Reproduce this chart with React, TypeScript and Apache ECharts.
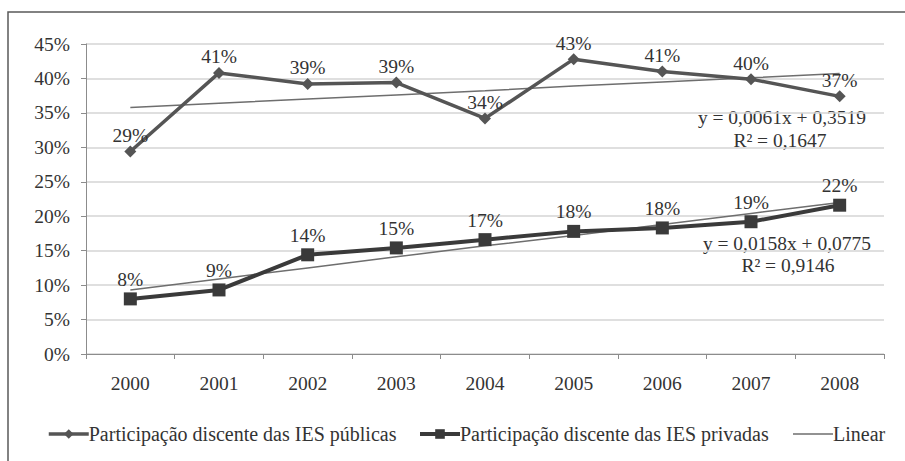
import React, { useEffect, useRef } from "react";
import * as echarts from "echarts";

const years = ["2000", "2001", "2002", "2003", "2004", "2005", "2006", "2007", "2008"];
const publicShare = [29.4, 40.8, 39.2, 39.4, 34.2, 42.8, 41.0, 39.9, 37.4];
const privateShare = [8.0, 9.3, 14.4, 15.4, 16.6, 17.8, 18.3, 19.2, 21.6];
const publicTrend = [35.8, 36.4, 37.0, 37.6, 38.2, 38.9, 39.5, 40.1, 40.7];
const privateTrend = [9.3, 10.9, 12.5, 14.1, 15.7, 17.2, 18.8, 20.4, 22.0];
const publicName = "Participação discente das IES públicas";
const privateName = "Participação discente das IES privadas";
const trendName = "Linear";
const publicEq = ["y = 0,0061x + 0,3519", "R² = 0,1647"];
const privateEq = ["y = 0,0158x + 0,0775", "R² = 0,9146"];

const FONT = "'Liberation Serif', 'Times New Roman', serif";
const FS = 19.5;

export default function App() {
  const ref = useRef<HTMLDivElement>(null);
  useEffect(() => {
    if (!ref.current) return;
    const chart = echarts.init(ref.current, undefined, { renderer: "svg" });
    const eqStyle = { fontFamily: FONT, fontSize: FS, fill: "#333", textAlign: "center", textVerticalAlign: "middle" };
    const legendBase = {
      top: 419,
      itemWidth: 40,
      itemHeight: 12,
      textStyle: { fontFamily: FONT, fontSize: 20, color: "#333", padding: [0, 0, 0, -5] },
    };
    chart.setOption({
      animation: false,
      backgroundColor: "#fff",
      textStyle: { fontFamily: FONT },
      grid: { left: 86, right: 21, top: 44, bottom: 107 },
      xAxis: {
        type: "category",
        data: years,
        boundaryGap: true,
        axisLine: { lineStyle: { color: "#8c8c8c", width: 1 } },
        axisTick: { show: true, length: 5, lineStyle: { color: "#8c8c8c" } },
        axisLabel: { fontFamily: FONT, fontSize: FS, color: "#333", margin: 19 },
      },
      yAxis: {
        type: "value",
        min: 0,
        max: 45,
        interval: 5,
        axisLine: { show: true, lineStyle: { color: "#8c8c8c", width: 1 } },
        axisTick: { show: true, length: 5, lineStyle: { color: "#8c8c8c" } },
        axisLabel: { fontFamily: FONT, fontSize: FS, color: "#333", margin: 16, formatter: (v: number) => `${v}%` },
        splitLine: { lineStyle: { color: "#d4d4d4", width: 1.5 } },
      },
      legend: [
        { ...legendBase, left: 42, data: [publicName], lineStyle: { width: 3.5 } },
        { ...legendBase, left: 413, data: [privateName], lineStyle: { width: 4 } },
        {
          ...legendBase,
          left: 788,
          data: [{ name: trendName, icon: "path://M0,0 L40,0 L40,1.5 L0,1.5 Z" }],
        },
      ],
      series: [
        {
          name: trendName,
          type: "line",
          data: publicTrend,
          symbol: "none",
          z: 1,
          lineStyle: { color: "#6e6e6e", width: 1.5 },
          itemStyle: { color: "#6e6e6e" },
        },
        {
          name: trendName,
          type: "line",
          data: privateTrend,
          symbol: "none",
          z: 1,
          lineStyle: { color: "#6e6e6e", width: 1.5 },
          itemStyle: { color: "#6e6e6e" },
        },
        {
          name: publicName,
          type: "line",
          data: publicShare,
          symbol: "diamond",
          symbolSize: 12,
          z: 3,
          lineStyle: { color: "#555", width: 3.5 },
          itemStyle: { color: "#555" },
          label: {
            show: true,
            position: "top",
            distance: 0,
            fontFamily: FONT,
            fontSize: FS,
            color: "#333",
            formatter: (p: any) => `${Math.round(p.value)}%`,
          },
        },
        {
          name: privateName,
          type: "line",
          data: privateShare,
          symbol: "rect",
          symbolSize: 13,
          z: 3,
          lineStyle: { color: "#3a3a3a", width: 4 },
          itemStyle: { color: "#3a3a3a" },
          label: {
            show: true,
            position: "top",
            distance: 3,
            fontFamily: FONT,
            fontSize: FS,
            color: "#333",
            formatter: (p: any) => `${Math.round(p.value)}%`,
          },
        },
      ],
      graphic: [
        {
          type: "rect",
          shape: { x: 8, y: 12, width: 1000, height: 1000 },
          style: { fill: "none", stroke: "#5a5a5a", lineWidth: 1.5 },
          silent: true,
        },
        { type: "text", x: 782, y: 117, style: { ...eqStyle, text: publicEq[0] } },
        { type: "text", x: 780, y: 140, style: { ...eqStyle, text: publicEq[1] } },
        { type: "text", x: 787, y: 243, style: { ...eqStyle, text: privateEq[0] } },
        { type: "text", x: 788, y: 265, style: { ...eqStyle, text: privateEq[1] } },
      ],
    });
    return () => chart.dispose();
  }, []);
  return <div ref={ref} style={{ position: "fixed", left: 0, top: 0, width: 905, height: 461 }} />;
}
